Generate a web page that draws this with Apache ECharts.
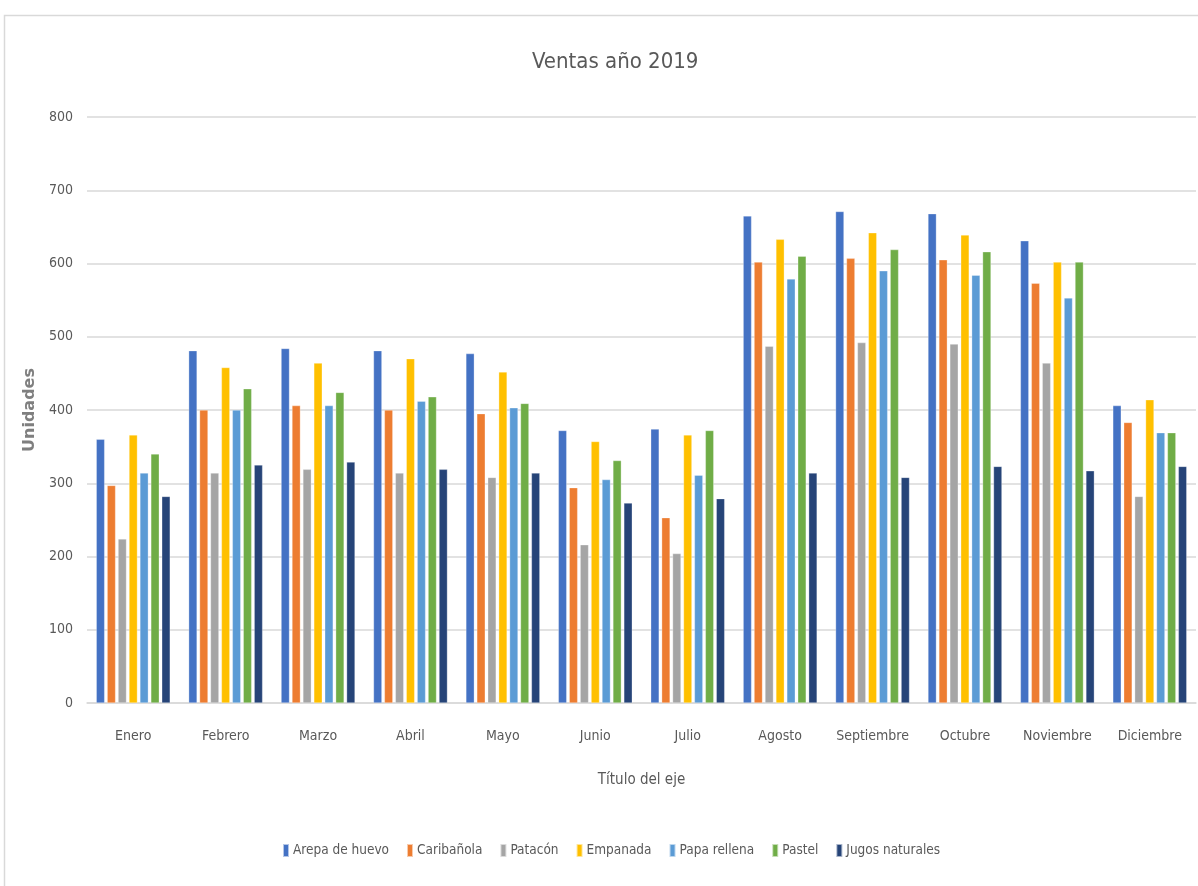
<!DOCTYPE html>
<html>
<head>
<meta charset="utf-8">
<script src="https://cdn.jsdelivr.net/npm/echarts@6/dist/echarts.min.js"></script>
<style>
  html, body { margin: 0; padding: 0; background: #fff; }
  #chart { width: 1198px; height: 886px; }
</style>
</head>
<body>
<div id="chart"></div>
<script>
const months = ['Enero', 'Febrero', 'Marzo', 'Abril', 'Mayo', 'Junio', 'Julio',
  'Agosto', 'Septiembre', 'Octubre', 'Noviembre', 'Diciembre']

const arepaDeHuevo = [360, 481, 484, 481, 477, 372, 374, 665, 671, 668, 631, 406]
const caribanola = [297, 400, 406, 400, 395, 294, 253, 602, 607, 605, 573, 383]
const patacon = [224, 314, 319, 314, 308, 216, 204, 487, 492, 490, 464, 282]
const empanada = [366, 458, 464, 470, 452, 357, 366, 633, 642, 639, 602, 414]
const papaRellena = [314, 400, 406, 412, 403, 305, 311, 579, 590, 584, 553, 369]
const pastel = [340, 429, 424, 418, 409, 331, 372, 610, 619, 616, 602, 369]
const jugosNaturales = [282, 325, 329, 319, 314, 273, 279, 314, 308, 323, 317, 323]

const seriesNames = ['Arepa de huevo', 'Caribañola', 'Patacón', 'Empanada',
  'Papa rellena', 'Pastel', 'Jugos naturales']
const seriesData = [arepaDeHuevo, caribanola, patacon, empanada, papaRellena, pastel, jugosNaturales]
const colors = ['#4472C4', '#ED7D31', '#A5A5A5', '#FFC000', '#5B9BD5', '#70AD47', '#264478']

const font = "'Liberation Sans Narrow', 'DejaVu Sans Condensed', sans-serif"

const chart = echarts.init(document.getElementById('chart'))

chart.setOption({
  animation: false,
  color: colors,
  textStyle: { fontFamily: font },
  title: {
    text: 'Ventas año 2019',
    left: 527,
    top: 46,
    textStyle: { color: '#595959', fontSize: 22, fontWeight: 'normal', fontFamily: font },
  },
  legend: {
    data: seriesNames,
    bottom: 23,
    left: 277,
    itemWidth: 6,
    itemHeight: 13,
    itemGap: 17,
    icon: 'rect',
    textStyle: { color: '#595959', fontSize: 13.5, fontFamily: font, padding: [0, 0, 0, -1] },
  },
  grid: { left: 87, right: 2, top: 117, bottom: 183 },
  xAxis: {
    type: 'category',
    data: months,
    name: 'Título del eje',
    nameLocation: 'middle',
    nameGap: 70,
    nameTextStyle: { color: '#595959', fontSize: 15, fontFamily: font },
    axisLine: { lineStyle: { color: '#d9d9d9', width: 1.5 } },
    axisTick: { show: false },
    axisLabel: { color: '#595959', fontSize: 14, margin: 26, interval: 0, fontFamily: font },
  },
  yAxis: {
    type: 'value',
    min: 0,
    max: 800,
    interval: 100,
    name: 'Unidades',
    nameLocation: 'middle',
    nameGap: 49,
    nameMoveOverlap: false,
    nameTextStyle: { color: '#7f7f7f', fontSize: 16, fontWeight: 'bold', fontFamily: "'DejaVu Sans', sans-serif" },
    axisLine: { show: false },
    axisTick: { show: false },
    axisLabel: { color: '#595959', fontSize: 14, margin: 14, fontFamily: font },
    splitLine: { lineStyle: { color: '#d9d9d9', width: 1.5 } },
  },
  graphic: [
    {
      type: 'rect',
      left: 2,
      top: 13,
      shape: { width: 1220, height: 900 },
      style: { fill: 'none', stroke: '#d9d9d9', lineWidth: 1.5 },
      silent: true,
      z: -1,
    },
  ],
  series: seriesNames.map((name, i) => ({
    name,
    type: 'bar',
    data: seriesData[i],
    barCategoryGap: '20%',
    barGap: '30%',
    itemStyle: { borderColor: 'rgba(255,255,255,0.6)', borderWidth: 0.5 },
  })),
})
</script>
</body>
</html>
